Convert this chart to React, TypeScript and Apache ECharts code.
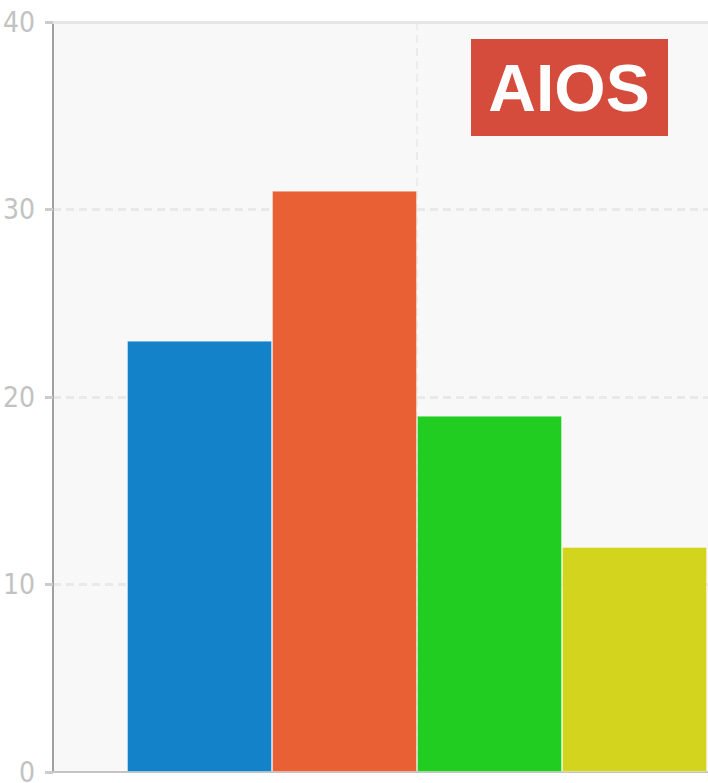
import React, { useEffect, useRef } from "react";
import * as echarts from "echarts";

const categories = ["AIOS"];
const seriesNames = ["A", "B", "C", "D"];
const seriesValues = [23, 31, 19, 12];
const seriesColors = ["#1482c8", "#e86034", "#21cd21", "#d3d41d"];
const yTicks = { min: 0, max: 40, interval: 10 };

export default function App() {
  const ref = useRef<HTMLDivElement>(null);
  useEffect(() => {
    if (!ref.current) return;
    const chart = echarts.init(ref.current, undefined, { renderer: "svg" });
    const series: any[] = seriesNames.map((name, i) => ({
      name,
      type: "bar",
      xAxisIndex: 0,
      data: [seriesValues[i]],
      barWidth: 145,
      barGap: "0%",
      itemStyle: {
        color: seriesColors[i],
        borderColor: "rgba(255,255,255,0.35)",
        borderWidth: 1,
      },
      silent: true,
    }));
    series[0].markLine = {
      silent: true,
      symbol: "none",
      label: { show: false },
      lineStyle: { type: "solid", color: "#e6e6e6", width: 3 },
      data: [{ yAxis: yTicks.max }],
    };
    chart.setOption({
      animation: false,
      backgroundColor: "#ffffff",
      grid: {
        left: 53,
        top: 22,
        right: -73,
        bottom: 11,
        outerBoundsMode: "none",
        containLabel: false,
        show: true,
        backgroundColor: "#f8f8f8",
        borderWidth: 0,
      },
      xAxis: [
        {
          type: "category",
          data: categories,
          axisLine: { show: true, lineStyle: { color: "#c4c4c4", width: 2 } },
          axisTick: { show: false },
          axisLabel: { show: false },
          splitLine: { show: false },
        },
        {
          type: "value",
          min: 0,
          max: 2,
          interval: 1,
          position: "top",
          axisLine: { show: false },
          axisTick: { show: false },
          axisLabel: { show: false },
          splitLine: {
            show: true,
            lineStyle: { color: ["transparent", "#ececec", "transparent"], type: [8, 5], width: 2 },
          },
        },
      ],
      yAxis: {
        type: "value",
        min: yTicks.min,
        max: yTicks.max,
        interval: yTicks.interval,
        axisLine: { show: true, lineStyle: { color: "#a0a0a0", width: 2 } },
        axisTick: { show: true, length: 8, lineStyle: { color: "#cccccc", width: 3 } },
        axisLabel: {
          margin: 18,
          color: "#c2c2c2",
          fontSize: 28,
          fontFamily: "'Liberation Sans Narrow', 'DejaVu Sans Condensed', sans-serif",
        },
        splitLine: {
          show: true,
          lineStyle: { color: ["transparent", "#e9e9e9", "#e9e9e9", "#e9e9e9", "#e9e9e9"], type: [8, 5], width: 3 },
        },
      },
      graphic: [
        {
          type: "group",
          children: [
            {
              type: "rect",
              shape: { x: 471, y: 39, width: 197, height: 97 },
              style: { fill: "#d54c3c" },
            },
            {
              type: "text",
              x: 569,
              y: 88,
              style: {
                text: "AIOS",
                fill: "#ffffff",
                fontSize: 66,
                fontWeight: "bold",
                fontFamily: "'Liberation Sans', Arial, sans-serif",
                align: "center",
                verticalAlign: "middle",
              },
            },
          ],
        },
      ],
      series,
    });
    return () => chart.dispose();
  }, []);
  return (
    <div
      ref={ref}
      style={{ position: "fixed", left: 0, top: 0, width: 708, height: 783 }}
    />
  );
}
